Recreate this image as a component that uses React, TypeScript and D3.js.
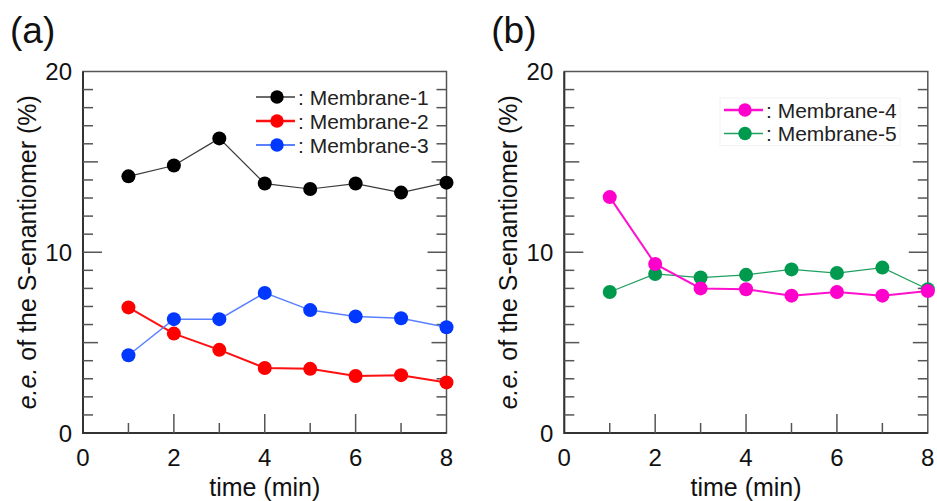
import React, { useEffect, useRef } from 'react';
import * as d3 from 'd3';

// time points (min)
const timeMin = [1, 2, 3, 4, 5, 6, 7, 8];

// e.e. of the S-enantiomer (%)
const membrane1 = [14.2, 14.8, 16.3, 13.8, 13.5, 13.8, 13.3, 13.85];
const membrane2 = [6.95, 5.5, 4.6, 3.6, 3.55, 3.15, 3.2, 2.8];
const membrane3 = [4.3, 6.3, 6.3, 7.75, 6.8, 6.45, 6.35, 5.85];
const membrane4 = [13.05, 9.35, 8.0, 7.95, 7.6, 7.8, 7.6, 7.85];
const membrane5 = [7.8, 8.8, 8.6, 8.75, 9.05, 8.85, 9.15, 7.95];

const xTickLabels = [0, 2, 4, 6, 8];
const yTickLabels = [0, 10, 20];

const FONT = '"Liberation Sans", Arial, sans-serif';

type Series = {
  name: string;
  values: number[];
  line: string;
  lineWidth: number;
  marker: string;
};

const panelA: Series[] = [
  { name: ': Membrane-1', values: membrane1, line: '#3a3a3a', lineWidth: 1.2, marker: '#000000' },
  { name: ': Membrane-2', values: membrane2, line: '#ff1010', lineWidth: 2, marker: '#ff0000' },
  { name: ': Membrane-3', values: membrane3, line: '#5a80ff', lineWidth: 1.5, marker: '#0038ff' },
];

const panelB: Series[] = [
  { name: ': Membrane-4', values: membrane4, line: '#ff10cc', lineWidth: 2, marker: '#ff00cc' },
  { name: ': Membrane-5', values: membrane5, line: '#20a060', lineWidth: 1.2, marker: '#009a4e' },
];

function drawPanel(
  root: d3.Selection<SVGGElement, unknown, null, undefined>,
  opts: {
    left: number;
    series: Series[];
    drawOrder: number[];
    label: string;
    legend: { x: number; y: number; step: number; box?: boolean };
  }
) {
  const top = 71.5;
  const bottom = 433;
  const width = 363.5;
  const x = d3.scaleLinear().domain([0, 8]).range([opts.left, opts.left + width]);
  const y = d3.scaleLinear().domain([0, 20]).range([bottom, top]);
  const g = root.append('g');

  // frame
  g.append('rect')
    .attr('x', x(0))
    .attr('y', y(20))
    .attr('width', width)
    .attr('height', bottom - top)
    .attr('fill', 'none')
    .attr('stroke', '#555')
    .attr('stroke-width', 1.5);
  g.append('path')
    .attr('d', `M${x(0)},${y(20)}V${y(0)}H${x(8)}`)
    .attr('fill', 'none')
    .attr('stroke', '#333')
    .attr('stroke-width', 2);

  // y ticks (inward on both sides)
  const tickLen = (v: number) => (v % 10 === 0 ? 19 : v % 5 === 0 ? 15 : 10);
  d3.range(1, 20).forEach((v) => {
    g.append('line')
      .attr('x1', x(0)).attr('x2', x(0) + tickLen(v))
      .attr('y1', y(v)).attr('y2', y(v))
      .attr('stroke', '#555').attr('stroke-width', 1.5);
    g.append('line')
      .attr('x1', x(8)).attr('x2', x(8) - tickLen(v))
      .attr('y1', y(v)).attr('y2', y(v))
      .attr('stroke', '#555').attr('stroke-width', 1.5);
  });

  // x ticks (inward from bottom)
  d3.range(1, 8).forEach((v) => {
    g.append('line')
      .attr('x1', x(v)).attr('x2', x(v))
      .attr('y1', y(0)).attr('y2', y(0) - (v % 2 === 0 ? 19 : 10))
      .attr('stroke', '#555').attr('stroke-width', 1.5);
  });

  // tick labels
  g.append('g')
    .selectAll('text')
    .data(yTickLabels)
    .join('text')
    .attr('x', x(0) - 11)
    .attr('y', (d) => y(d))
    .attr('dy', '0.36em')
    .attr('text-anchor', 'end')
    .attr('font-size', 24)
    .attr('fill', '#111')
    .text((d) => d);

  g.append('g')
    .selectAll('text')
    .data(xTickLabels)
    .join('text')
    .attr('x', (d) => x(d))
    .attr('y', 466)
    .attr('text-anchor', 'middle')
    .attr('font-size', 24)
    .attr('fill', '#111')
    .text((d) => d);

  // axis titles
  g.append('text')
    .attr('x', (x(0) + x(8)) / 2)
    .attr('y', 496)
    .attr('text-anchor', 'middle')
    .attr('font-size', 25)
    .attr('fill', '#111')
    .text('time (min)');

  const yt = g.append('text')
    .attr('transform', `translate(${x(0) - 47},${(top + bottom) / 2}) rotate(-90)`)
    .attr('text-anchor', 'middle')
    .attr('font-size', 25)
    .attr('fill', '#111');
  yt.append('tspan').attr('font-style', 'italic').text('e.e.');
  yt.append('tspan').text(' of the ');
  yt.append('tspan').text('S');
  yt.append('tspan').text('-enantiomer (%)');

  // panel label
  g.append('text')
    .attr('x', x(0) - 73)
    .attr('y', 43)
    .attr('font-size', 37)
    .attr('fill', '#111')
    .text(opts.label);

  // legend
  const lg = g.append('g');
  const L = opts.legend;
  if (L.box) {
    lg.append('rect')
      .attr('x', L.x - 4)
      .attr('y', L.y - 12)
      .attr('width', 180)
      .attr('height', 24 + L.step * (opts.series.length - 1))
      .attr('fill', '#fff')
      .attr('stroke', '#f2f2f2');
  }
  opts.series.forEach((s, i) => {
    const ly = L.y + i * L.step;
    lg.append('line')
      .attr('x1', L.x).attr('x2', L.x + 39)
      .attr('y1', ly).attr('y2', ly)
      .attr('stroke', s.line).attr('stroke-width', s.lineWidth + 0.5);
    lg.append('circle')
      .attr('cx', L.x + 21).attr('cy', ly).attr('r', 6.7)
      .attr('fill', s.marker);
    lg.append('text')
      .attr('x', L.x + 42)
      .attr('y', ly)
      .attr('dy', '0.36em')
      .attr('font-size', 21)
      .attr('fill', '#222')
      .text(s.name);
  });

  // series
  const line = d3
    .line<number>()
    .x((_, i) => x(timeMin[i]))
    .y((d) => y(d));

  opts.drawOrder.forEach((k) => {
    const s = opts.series[k];
    g.append('path')
      .attr('d', line(s.values))
      .attr('fill', 'none')
      .attr('stroke', s.line)
      .attr('stroke-width', s.lineWidth);
  });
  opts.drawOrder.forEach((k) => {
    const s = opts.series[k];
    g.append('g')
      .selectAll('circle')
      .data(s.values)
      .join('circle')
      .attr('cx', (_, i) => x(timeMin[i]))
      .attr('cy', (d) => y(d))
      .attr('r', 7)
      .attr('fill', s.marker);
  });
}

export default function App() {
  const ref = useRef<SVGSVGElement>(null);

  useEffect(() => {
    const svg = d3.select(ref.current);
    svg.selectAll('*').remove();
    const root = svg.append('g').attr('font-family', FONT);

    drawPanel(root as any, {
      left: 83,
      series: panelA,
      drawOrder: [0, 1, 2],
      label: '(a)',
      legend: { x: 256, y: 97, step: 24 },
    });
    drawPanel(root as any, {
      left: 564.3,
      series: panelB,
      drawOrder: [1, 0],
      label: '(b)',
      legend: { x: 724, y: 110, step: 23.5, box: true },
    });
  }, []);

  return (
    <svg
      ref={ref}
      width={937}
      height={501}
      style={{ position: 'absolute', left: 0, top: 0, background: '#fff' }}
    />
  );
}
